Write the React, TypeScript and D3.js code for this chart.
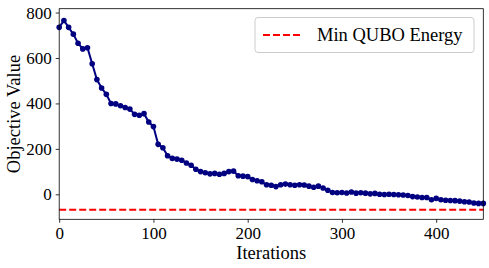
import { useEffect, useRef } from "react";
import * as d3 from "d3";

// iterations sampled from the run
const iterations = [
  0, 5, 10, 15, 20, 25, 30, 35, 40, 45, 50, 55, 60, 65, 70, 75, 80, 85, 90, 95,
  100, 105, 110, 115, 120, 125, 130, 135, 140, 145, 150, 155, 160, 165, 170, 175,
  180, 185, 190, 195, 200, 205, 210, 215, 220, 225, 230, 235, 240, 245, 250, 255,
  260, 265, 270, 275, 280, 285, 290, 295, 300, 305, 310, 315, 320, 325, 330, 335,
  340, 345, 350, 355, 360, 365, 370, 375, 380, 385, 390, 395, 400, 405, 410, 415,
  420, 425, 430, 435, 440, 445, 450,
];

const objective = [
  735, 765, 735, 705, 665, 640, 645, 575, 505, 468, 440, 400, 398, 390, 382, 375,
  352, 348, 355, 318, 298, 220, 205, 170, 158, 155, 150, 138, 128, 110, 100, 95,
  90, 92, 88, 92, 100, 102, 82, 80, 78, 65, 60, 55, 42, 40, 34, 42, 45, 42, 40,
  42, 41, 36, 31, 36, 28, 18, 8, 7, 8, 6, 10, 5, 7, 5, 2, 4, 0, -1, 0, -1, -2, -3,
  -5, -10, -12, -14, -14, -24, -18, -24, -26, -27, -28, -30, -33, -34, -38, -40,
  -40,
];

const minQuboEnergy = -68;

const xTicks = [0, 100, 200, 300, 400];
const yTicks = [0, 200, 400, 600, 800];

const legendLabel = "Min QUBO Energy";
const xLabel = "Iterations";
const yLabel = "Objective Value";

const FONT = "Liberation Serif";

export default function App() {
  const ref = useRef<SVGSVGElement | null>(null);

  useEffect(() => {
    if (!ref.current) return;
    const svg = d3.select(ref.current);
    svg.selectAll("*").remove();

    const margin = { top: 8.7, right: 5.7, bottom: 48.7, left: 59.2 };
    const width = 489;
    const height = 268;
    const innerW = width - margin.left - margin.right;
    const innerH = height - margin.top - margin.bottom;

    const x = d3.scaleLinear().domain([0, 450]).range([0, innerW]);
    const y = d3.scaleLinear().domain([-110, 817]).range([innerH, 0]);

    const g = svg
      .append("g")
      .attr("transform", `translate(${margin.left},${margin.top})`);

    // min energy reference
    g.append("line")
      .attr("x1", 0)
      .attr("x2", innerW)
      .attr("y1", y(minQuboEnergy))
      .attr("y2", y(minQuboEnergy))
      .attr("stroke", "#ff0000")
      .attr("stroke-width", 1.9)
      .attr("stroke-dasharray", "7,3");

    const pts = iterations.map((it, i) => [it, objective[i]] as [number, number]);

    const line = d3
      .line<[number, number]>()
      .x((d) => x(d[0]))
      .y((d) => y(d[1]));

    g.append("path")
      .datum(pts)
      .attr("d", line)
      .attr("fill", "none")
      .attr("stroke", "#000080")
      .attr("stroke-width", 2);

    g.selectAll("circle.pt")
      .data(pts)
      .enter()
      .append("circle")
      .attr("class", "pt")
      .attr("cx", (d) => x(d[0]))
      .attr("cy", (d) => y(d[1]))
      .attr("r", 2.8)
      .attr("fill", "#000080");

    // axes
    const xAxis = g
      .append("g")
      .attr("transform", `translate(0,${innerH})`)
      .call(
        d3.axisBottom(x).tickValues(xTicks).tickSize(3.5).tickPadding(4)
      );
    const yAxis = g
      .append("g")
      .call(d3.axisLeft(y).tickValues(yTicks).tickSize(3.5).tickPadding(4));

    [xAxis, yAxis].forEach((ax) => {
      ax.attr("font-family", FONT).attr("font-size", 17);
      ax.select(".domain").remove();
      ax.selectAll("line").attr("stroke", "#000").attr("stroke-width", 0.8);
      ax.selectAll("text")
        .attr("fill", "#000")
        .attr("font-family", FONT)
        .attr("font-size", 17);
    });

    // frame
    g.append("rect")
      .attr("x", 0)
      .attr("y", 0)
      .attr("width", innerW)
      .attr("height", innerH)
      .attr("fill", "none")
      .attr("stroke", "#000")
      .attr("stroke-width", 0.8);

    // labels
    svg
      .append("text")
      .attr("x", margin.left + innerW / 2)
      .attr("y", 259)
      .attr("text-anchor", "middle")
      .attr("font-family", FONT)
      .attr("font-size", 18.5)
      .text(xLabel);

    svg
      .append("text")
      .attr(
        "transform",
        `translate(19.5,${margin.top + innerH / 2}) rotate(-90)`
      )
      .attr("text-anchor", "middle")
      .attr("font-family", FONT)
      .attr("font-size", 18.5)
      .text(yLabel);

    // legend
    const lg = svg.append("g").attr("transform", "translate(255,17.5)");
    lg.append("rect")
      .attr("width", 219)
      .attr("height", 35)
      .attr("rx", 3)
      .attr("fill", "#fff")
      .attr("fill-opacity", 0.8)
      .attr("stroke", "#cccccc")
      .attr("stroke-width", 1);
    lg.append("line")
      .attr("x1", 8)
      .attr("x2", 46)
      .attr("y1", 17.5)
      .attr("y2", 17.5)
      .attr("stroke", "#ff0000")
      .attr("stroke-width", 1.9)
      .attr("stroke-dasharray", "7,3");
    lg.append("text")
      .attr("x", 62)
      .attr("y", 17.5)
      .attr("dy", "0.35em")
      .attr("font-family", FONT)
      .attr("font-size", 18.5)
      .text(legendLabel);
  }, []);

  return (
    <svg
      ref={ref}
      width={489}
      height={268}
      fontFamily={FONT}
      style={{ position: "absolute", left: 0, top: 0, background: "#fff" }}
    />
  );
}
